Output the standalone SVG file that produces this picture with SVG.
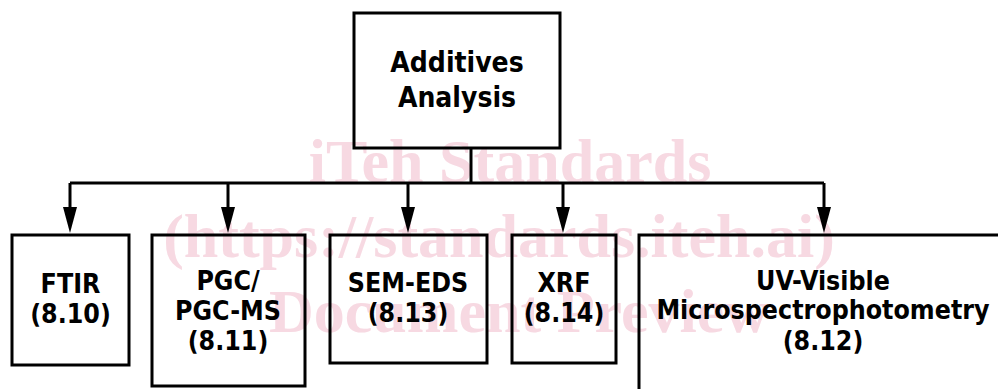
<svg xmlns="http://www.w3.org/2000/svg" width="998" height="389" viewBox="0 0 998 389">
<style>
.box{fill:none;stroke:#000;stroke-width:3}
.lbl{font-family:"DejaVu Sans Condensed","DejaVu Sans",sans-serif;font-stretch:condensed;font-weight:bold;font-size:26.5px;fill:#000;text-anchor:middle}
.big{font-size:28px}
.wm{font-family:"Liberation Serif","Times New Roman",serif;font-weight:bold;fill:#f7d9e2;text-anchor:middle;font-size:62px}
.con{fill:none;stroke:#000;stroke-width:3}
</style>
<defs>
<marker id="arr" viewBox="0 0 26 14" refX="8" refY="7" markerWidth="26" markerHeight="14" markerUnits="userSpaceOnUse" orient="auto">
<path d="M0,0 L26,7 L0,14 Z" fill="#000"/>
</marker>
</defs>
<rect width="998" height="389" fill="#fff"/>
<g id="watermark">
<text class="wm" x="510" y="182">iTeh Standards</text>
<text class="wm" x="499" y="257">(https://standards.iteh.ai)</text>
<text class="wm" x="519" y="332" font-size="64">Document Preview</text>
</g>
<g id="connectors">
<path class="con" d="M471,148 V183"/>
<path class="con" d="M70,183 H824"/>
<path class="con" d="M70,183 V215" marker-end="url(#arr)"/>
<path class="con" d="M228,183 V215" marker-end="url(#arr)"/>
<path class="con" d="M408,183 V215" marker-end="url(#arr)"/>
<path class="con" d="M563,183 V215" marker-end="url(#arr)"/>
<path class="con" d="M824,183 V215" marker-end="url(#arr)"/>
</g>
<g id="additives">
<rect class="box" x="354" y="13" width="206" height="135"/>
<text class="lbl big" x="457" y="72">Additives</text>
<text class="lbl big" x="457" y="107">Analysis</text>
</g>
<g id="ftir">
<rect class="box" x="12" y="235" width="117" height="130"/>
<text class="lbl" x="70.5" y="293">FTIR</text>
<text class="lbl" x="70.5" y="323">(8.10)</text>
</g>
<g id="pgc">
<rect class="box" x="152" y="235" width="153" height="151"/>
<text class="lbl" x="228" y="290">PGC/</text>
<text class="lbl" x="228" y="320">PGC-MS</text>
<text class="lbl" x="228" y="350">(8.11)</text>
</g>
<g id="semeds">
<rect class="box" x="330" y="235" width="157" height="128"/>
<text class="lbl" x="408" y="292">SEM-EDS</text>
<text class="lbl" x="408" y="322">(8.13)</text>
</g>
<g id="xrf">
<rect class="box" x="512" y="235" width="104" height="128"/>
<text class="lbl" x="564" y="292">XRF</text>
<text class="lbl" x="564" y="322">(8.14)</text>
</g>
<g id="uv">
<rect class="box" x="639" y="235" width="420" height="200"/>
<text class="lbl" x="823" y="290">UV-Visible</text>
<text class="lbl" x="823" y="319">Microspectrophotometry</text>
<text class="lbl" x="823" y="350">(8.12)</text>
</g>
</svg>
